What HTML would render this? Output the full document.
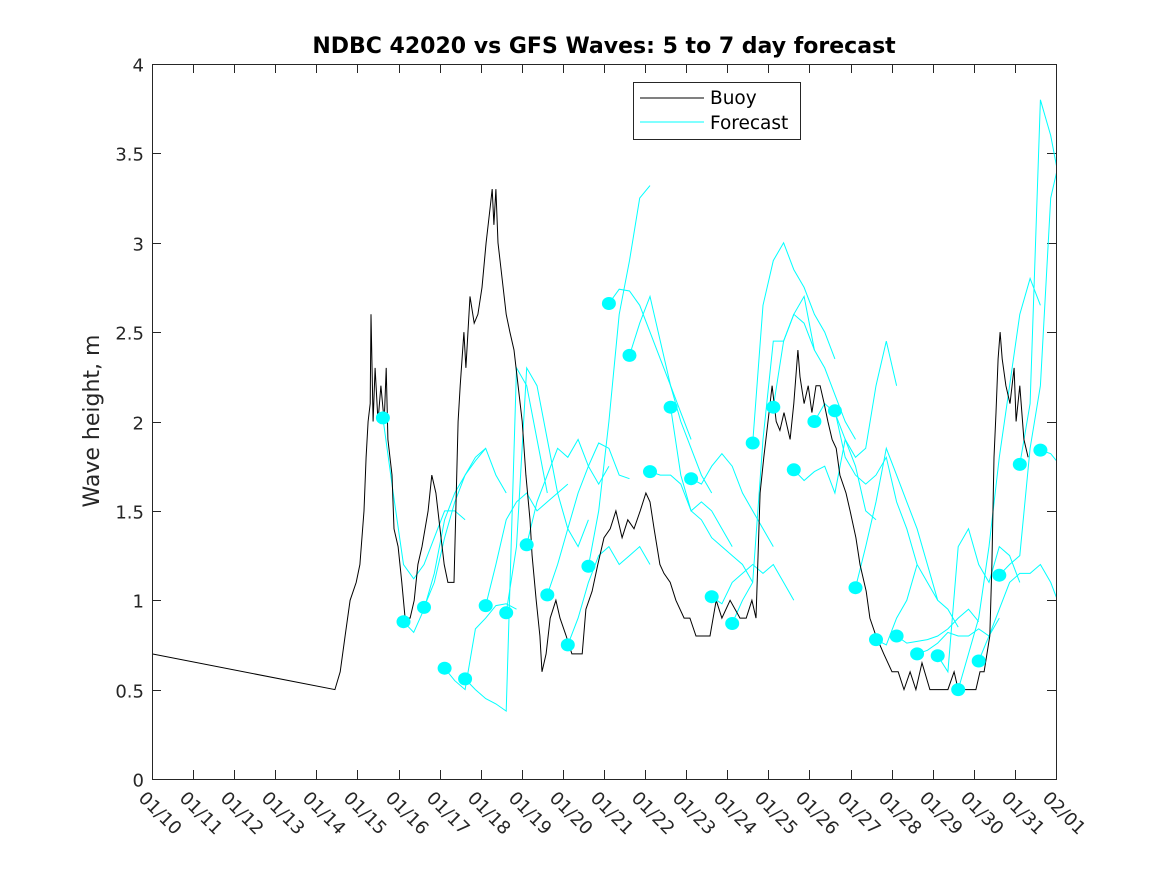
<!DOCTYPE html>
<html><head><meta charset="utf-8"><style>
html,body{margin:0;padding:0;background:#fff;}
svg{display:block;font-family:"DejaVu Sans","Liberation Sans",sans-serif;}
</style></head><body>
<svg id="chart" width="1167" height="875" viewBox="0 0 1167 875" xmlns="http://www.w3.org/2000/svg">
<rect x="0" y="0" width="1167" height="875" fill="#fff"/>
<defs><clipPath id="plotclip"><rect x="152" y="64" width="904" height="715"/></clipPath></defs>
<rect x="152" y="64" width="904" height="715" fill="#fff"/>
<text x="604" y="53" text-anchor="middle" font-size="22" font-weight="bold" fill="#000">NDBC 42020 vs GFS Waves: 5 to 7 day forecast</text>
<text transform="translate(99,421) rotate(-90)" text-anchor="middle" font-size="22" fill="#262626">Wave height, m</text>
<g id="axes"></g>
<g id="series" clip-path="url(#plotclip)"></g>
<rect x="152.5" y="64.5" width="904" height="715" fill="none" stroke="#262626" stroke-width="1"/>
<g>
<rect x="633.5" y="82.5" width="167" height="57" fill="#fff" stroke="#262626"/>
<line x1="640" y1="98" x2="704" y2="98" stroke="#000"/>
<text x="710" y="104" font-size="18.5" fill="#000">Buoy</text>
<line x1="640" y1="122" x2="704" y2="122" stroke="#00ffff"/>
<text x="710" y="129" font-size="18.5" fill="#000">Forecast</text>
</g>
</svg>
<script>
const xTickLabels = ["01/10","01/11","01/12","01/13","01/14","01/15","01/16","01/17","01/18","01/19","01/20","01/21","01/22","01/23","01/24","01/25","01/26","01/27","01/28","01/29","01/30","01/31","02/01"];
const yTicks = [0,0.5,1,1.5,2,2.5,3,3.5,4];
const yTickLabels = ["0","0.5","1","1.5","2","2.5","3","3.5","4"];
const buoyDays = [0,4.45,4.58,4.70,4.82,4.97,5.06,5.16,5.21,5.26,5.31,5.33,5.38,5.43,5.50,5.57,5.65,5.70,5.74,5.84,5.89,5.99,6.08,6.16,6.28,6.38,6.47,6.57,6.72,6.81,6.91,7.01,7.11,7.20,7.35,7.45,7.50,7.59,7.64,7.74,7.84,7.93,8.03,8.13,8.23,8.28,8.32,8.37,8.42,8.52,8.62,8.71,8.81,8.91,9.01,9.10,9.20,9.25,9.35,9.44,9.49,9.59,9.69,9.83,9.93,10.08,10.22,10.47,10.56,10.71,10.85,11.00,11.15,11.29,11.44,11.58,11.73,11.88,12.02,12.12,12.22,12.36,12.46,12.61,12.75,12.95,13.09,13.24,13.58,13.73,13.87,14.07,14.31,14.46,14.60,14.70,14.80,14.89,14.99,15.09,15.19,15.28,15.38,15.53,15.62,15.72,15.77,15.87,15.97,16.06,16.16,16.26,16.36,16.45,16.55,16.65,16.74,16.89,16.99,17.13,17.23,17.38,17.47,17.62,17.81,18.01,18.16,18.30,18.45,18.59,18.74,18.93,19.37,19.52,19.62,19.86,20.05,20.15,20.25,20.39,20.44,20.49,20.54,20.59,20.64,20.69,20.78,20.88,20.98,21.03,21.12,21.22,21.32];
const buoyValues = [0.7,0.5,0.6,0.8,1.0,1.1,1.2,1.5,1.8,2.0,2.1,2.6,2.0,2.3,2.0,2.2,2.0,2.3,1.9,1.7,1.4,1.3,1.1,0.9,0.9,1.0,1.2,1.3,1.5,1.7,1.6,1.4,1.2,1.1,1.1,2.0,2.2,2.5,2.3,2.7,2.55,2.6,2.75,3.0,3.2,3.3,3.1,3.3,3.0,2.8,2.6,2.5,2.4,2.2,2.0,1.7,1.45,1.25,1.0,0.8,0.6,0.7,0.9,1.0,0.9,0.8,0.7,0.7,0.95,1.05,1.2,1.35,1.4,1.5,1.35,1.45,1.4,1.5,1.6,1.55,1.4,1.2,1.15,1.1,1.0,0.9,0.9,0.8,0.8,1.0,0.9,1.0,0.9,0.9,1.0,0.9,1.6,1.8,2.0,2.2,2.0,1.95,2.05,1.9,2.1,2.4,2.25,2.1,2.2,2.05,2.2,2.2,2.1,2.0,1.9,1.85,1.7,1.6,1.5,1.35,1.2,1.05,0.9,0.8,0.7,0.6,0.6,0.5,0.6,0.5,0.65,0.5,0.5,0.6,0.5,0.5,0.5,0.6,0.6,0.8,1.2,1.8,2.05,2.35,2.5,2.35,2.2,2.1,2.3,2.0,2.2,1.9,1.8];
const fcStartDays = [5.62,6.12,6.62,7.12,7.62,8.12,8.62,9.12,9.62,10.12,10.62,11.12,11.62,12.12,12.62,13.12,13.62,14.12,14.62,15.12,15.62,16.12,16.62,17.12,17.62,18.12,18.62,19.12,19.62,20.12,20.62,21.12,21.62];
const fcValues = [
[2.02,1.6,1.2,1.12,1.2,1.35,1.5,1.5,1.45],
[0.88,0.82,0.95,1.15,1.45,1.6,1.7,1.8,1.85],
[0.96,1.1,1.35,1.55,1.7,1.78,1.85,1.7,1.6],
[0.62,0.55,0.5,0.84,0.9,0.97,0.98,0.95],
[0.56,0.5,0.45,0.42,0.38,2.3,2.2,1.9,1.6],
[0.97,1.2,1.45,1.55,1.6,1.5,1.55,1.6,1.65],
[0.93,1.3,2.3,2.2,1.9,1.6,1.4,1.3,1.45],
[1.31,1.55,1.7,1.85,1.8,1.9,1.75,1.65,1.75],
[1.03,1.2,1.4,1.6,1.75,1.88,1.85,1.7,1.68],
[0.75,0.9,1.1,1.25,1.3,1.2,1.25,1.3,1.2],
[1.19,1.5,2.0,2.6,2.9,3.25,3.32],
[2.66,2.74,2.73,2.65,2.5,2.35,2.2,2.05,1.9],
[2.37,2.55,2.7,2.45,2.2,2.0,1.85,1.7,1.6],
[1.72,1.7,1.7,1.65,1.5,1.55,1.5,1.4,1.3],
[2.08,1.7,1.5,1.45,1.35,1.3,1.25,1.2,1.1],
[1.68,1.65,1.75,1.82,1.75,1.6,1.5,1.4,1.3],
[1.02,0.98,1.1,1.15,1.2,1.15,1.2,1.1,1.0],
[0.87,1.0,1.1,1.9,2.45,2.45,2.6,2.7,2.4],
[1.88,2.65,2.9,3.0,2.85,2.75,2.6,2.5,2.35],
[2.08,2.45,2.6,2.55,2.4,2.3,2.15,2.0,1.9],
[1.73,1.67,1.72,1.75,1.6,1.9,1.75,1.5,1.45],
[2.0,2.1,2.05,1.9,1.8,1.85,2.2,2.45,2.2],
[2.06,1.8,1.7,1.65,1.7,1.8,1.55,1.4,1.2],
[1.07,1.3,1.55,1.85,1.7,1.55,1.4,1.2,1.0],
[0.78,0.75,0.9,1.0,1.2,1.1,1.0,0.95,0.85],
[0.80,0.76,0.77,0.78,0.8,0.84,0.9,0.95,0.88],
[0.70,0.72,0.76,0.82,0.8,0.8,0.84,0.8,0.9],
[0.69,0.6,1.3,1.4,1.2,1.1,1.3,1.25,1.1],
[0.50,0.7,0.9,1.3,1.8,2.2,2.6,2.8,2.65],
[0.66,0.8,0.95,1.1,1.15,1.15,1.2,1.1,0.95],
[1.14,1.2,1.25,1.85,2.2,3.25,3.5,3.3,3.2],
[1.76,2.1,3.8,3.6,3.3,2.9],
[1.84,1.82,1.75,1.7]
];
const fcStep = 0.25;

const X0=152, X1=1056, Y0=779, Y1=64, DMAX=22, VMAX=4;
function xs(d){return X0+(X1-X0)*d/DMAX;}
function ys(v){return Y0-(Y0-Y1)*v/VMAX;}
const NS="http://www.w3.org/2000/svg";
const axes=document.getElementById('axes');
const series=document.getElementById('series');
function mk(tag,attrs,parent){const e=document.createElementNS(NS,tag);for(const k in attrs)e.setAttribute(k,attrs[k]);parent.appendChild(e);return e;}

xTickLabels.forEach((lab,i)=>{
  const x=Math.round(xs(i))+0.5;
  const t1=mk('line',{x1:x,y1:Y0,x2:x,y2:Y0-9,stroke:'#262626'},axes);
  
  
  const t2=mk('line',{x1:x,y1:Y1,x2:x,y2:Y1+9,stroke:'#262626'},axes);
  
  
  const tx=mk('text',{transform:`translate(${x-15},${Y0+20}) rotate(45)`,'font-size':'18',fill:'#262626'},axes);
  tx.textContent=lab;
  
  
});
yTicks.forEach((v,i)=>{
  const y=Math.round(ys(v))+0.5;
  const t1=mk('line',{x1:X0,y1:y,x2:X0+9,y2:y,stroke:'#262626'},axes);
  
  
  const t2=mk('line',{x1:X1,y1:y,x2:X1-9,y2:y,stroke:'#262626'},axes);
  
  
  const tx=mk('text',{x:X0-8,y:y+7,'text-anchor':'end','font-size':'18',fill:'#262626'},axes);
  tx.textContent=yTickLabels[i];
  
  
});

fcValues.forEach((vals,i)=>{
  const pts=vals.map((v,j)=>xs(fcStartDays[i]+j*fcStep).toFixed(1)+','+ys(v).toFixed(1)).join(' ');
  const pl=mk('polyline',{points:pts,fill:'none',stroke:'#00ffff','stroke-width':1},series);
  
  
});
const bpts=buoyDays.map((d,i)=>xs(d).toFixed(1)+','+ys(buoyValues[i]).toFixed(1)).join(' ');
const bl=mk('polyline',{points:bpts,fill:'none',stroke:'#000','stroke-width':1},series);


fcValues.forEach((vals,i)=>{
  const c=mk('ellipse',{cx:xs(fcStartDays[i]).toFixed(1),cy:ys(vals[0]).toFixed(1),rx:7,ry:6.5,fill:'#00ffff'},series);
  
  
});
</script>
</body></html>
